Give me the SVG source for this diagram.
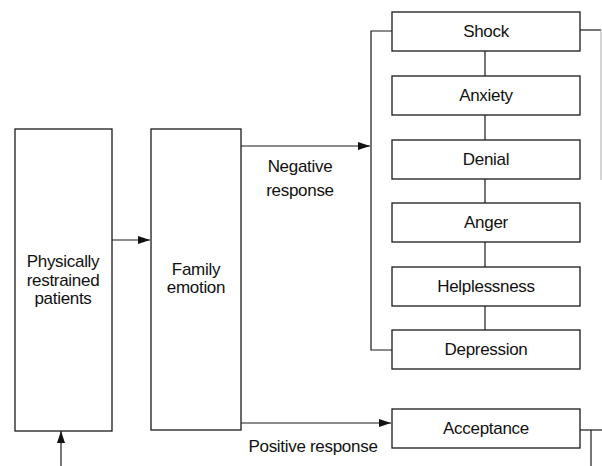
<svg xmlns="http://www.w3.org/2000/svg" width="602" height="466" viewBox="0 0 602 466">
<style>
.box{fill:#fff;stroke:#1a1a1a;stroke-width:1.3}
.ln{fill:none;stroke:#1a1a1a;stroke-width:1.2}
.faint{fill:none;stroke:#aaa;stroke-width:1}
text{font-family:"Liberation Sans",Arial,sans-serif;font-size:17px;letter-spacing:-0.3px;fill:#111;text-anchor:middle}
</style>
<defs>
<marker id="ah" markerWidth="12" markerHeight="8" refX="12" refY="4" orient="auto" markerUnits="userSpaceOnUse">
<path d="M0,0 L12,4 L0,8 Z" fill="#111"/>
</marker>
</defs>
<g id="connectors">
<line class="ln" x1="112" y1="240" x2="150" y2="240" marker-end="url(#ah)"/>
<line class="ln" x1="61" y1="466" x2="61" y2="431" marker-end="url(#ah)"/>
<line class="ln" x1="241" y1="146" x2="370" y2="146" marker-end="url(#ah)"/>
<line class="ln" x1="241" y1="423" x2="391" y2="423" marker-end="url(#ah)"/>
<polyline class="ln" points="392,31 371,31 371,350 392,350"/>
<line class="ln" x1="485" y1="51" x2="485" y2="76"/>
<line class="ln" x1="485" y1="115" x2="485" y2="140"/>
<line class="ln" x1="485" y1="179" x2="485" y2="203"/>
<line class="ln" x1="485" y1="242" x2="485" y2="267"/>
<line class="ln" x1="485" y1="306" x2="485" y2="330"/>
<line class="ln" x1="580" y1="30" x2="601" y2="30"/>
<line class="faint" x1="601" y1="30" x2="601" y2="180"/>
<line class="ln" x1="580" y1="430" x2="602" y2="430"/>
<line class="ln" x1="591" y1="430" x2="591" y2="466"/>
</g>
<g id="patients">
<rect class="box" x="15" y="129" width="97" height="302"/>
<text x="63" y="267">Physically</text>
<text x="63" y="285.5">restrained</text>
<text x="63" y="304">patients</text>
</g>
<g id="family">
<rect class="box" x="151" y="129" width="90" height="301"/>
<text x="196" y="275">Family</text>
<text x="196" y="293">emotion</text>
</g>
<g id="shock"><rect class="box" x="392" y="12" width="188" height="39"/><text x="486" y="37">Shock</text></g>
<g id="anxiety"><rect class="box" x="392" y="76" width="188" height="39"/><text x="486" y="101">Anxiety</text></g>
<g id="denial"><rect class="box" x="392" y="140" width="188" height="39"/><text x="486" y="165">Denial</text></g>
<g id="anger"><rect class="box" x="392" y="203" width="188" height="39"/><text x="486" y="228">Anger</text></g>
<g id="helplessness"><rect class="box" x="392" y="267" width="188" height="39"/><text x="486" y="292">Helplessness</text></g>
<g id="depression"><rect class="box" x="392" y="330" width="188" height="39"/><text x="486" y="355">Depression</text></g>
<g id="acceptance"><rect class="box" x="392" y="409" width="188" height="39"/><text x="486" y="434">Acceptance</text></g>
<g id="labels">
<text x="300" y="172">Negative</text>
<text x="300" y="196">response</text>
<text x="313" y="452">Positive response</text>
</g>
</svg>
